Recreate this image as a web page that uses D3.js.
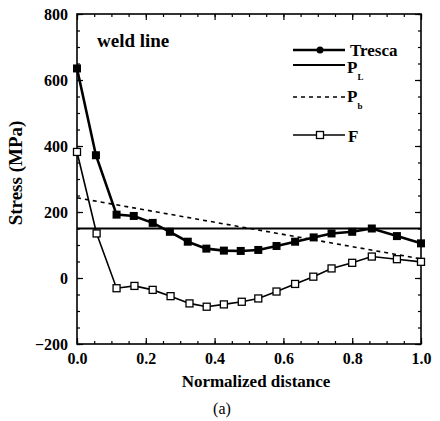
<!DOCTYPE html>
<html>
<head>
<meta charset="utf-8">
<script src="https://cdn.jsdelivr.net/npm/d3@7"></script>
<style>
  body { margin: 0; background: #fff; }
  svg text { font-family: "Liberation Serif", "Times New Roman", serif; fill: #000; }
</style>
</head>
<body>
<svg id="chart" width="440" height="421"></svg>
<script>
// data
var trescaX = [0, 0.055, 0.115, 0.165, 0.22, 0.27, 0.322, 0.376, 0.427, 0.476, 0.527, 0.58, 0.634, 0.688, 0.74, 0.80, 0.857, 0.93, 1.0];
var trescaY = [635, 372, 192, 188, 167, 140, 110, 89, 83, 82, 85, 97, 110, 123, 135, 140, 150, 127, 105];
var fX = [0, 0.057, 0.115, 0.167, 0.22, 0.272, 0.327, 0.377, 0.427, 0.479, 0.527, 0.58, 0.634, 0.687, 0.74, 0.80, 0.857, 0.93, 1.0];
var fY = [382, 135, -31, -24, -36, -55, -77, -87, -80, -72, -62, -41, -18, 4, 29, 46, 65, 57, 49];
var plX = [0, 1];
var plY = [150, 150];
var pbX = [0, 1];
var pbY = [243, 58];
var xTicks = [0, 0.2, 0.4, 0.6, 0.8, 1.0];
var yTicks = [-200, 0, 200, 400, 600, 800];

var svg = d3.select('#chart');
var plotLeft = 77, plotRight = 421, plotTop = 14, plotBottom = 344;

var x = d3.scaleLinear().domain([0, 1]).range([plotLeft, plotRight]);
var y = d3.scaleLinear().domain([-200, 800]).range([plotBottom, plotTop]);

var xMinor = d3.range(0, 1.0001, 0.05);
var yMinor = d3.range(-200, 801, 50);

// minor ticks, all four sides, pointing in
function minorAxis(axis, transform) {
  svg.append('g').attr('transform', transform).call(axis)
    .call(g => g.selectAll('text').remove())
    .call(g => g.select('.domain').remove())
    .selectAll('line').attr('stroke', '#000').attr('stroke-width', 1);
}
minorAxis(d3.axisBottom(x).tickValues(xMinor).tickSize(-3), 'translate(0,' + plotBottom + ')');
minorAxis(d3.axisTop(x).tickValues(xMinor).tickSize(-3), 'translate(0,' + plotTop + ')');
minorAxis(d3.axisLeft(y).tickValues(yMinor).tickSize(-3), 'translate(' + plotLeft + ',0)');
minorAxis(d3.axisRight(y).tickValues(yMinor).tickSize(-3), 'translate(' + plotRight + ',0)');

// major axes
svg.append('g').attr('class', 'axis').attr('transform', 'translate(0,' + plotBottom + ')')
  .call(d3.axisBottom(x).tickValues(xTicks).tickSize(-6).tickPadding(9).tickFormat(d3.format('.1f')));
svg.append('g').attr('class', 'axis').attr('transform', 'translate(' + plotLeft + ',0)')
  .call(d3.axisLeft(y).tickValues(yTicks).tickSize(-6).tickPadding(9).tickFormat(d3.format('d')));
svg.append('g').attr('transform', 'translate(0,' + plotTop + ')')
  .call(d3.axisTop(x).tickValues(xTicks).tickSize(-6).tickFormat(''));
svg.append('g').attr('transform', 'translate(' + plotRight + ',0)')
  .call(d3.axisRight(y).tickValues(yTicks).tickSize(-6).tickFormat(''));

svg.selectAll('.domain').remove();
svg.selectAll('g').attr('font-family', null).attr('font-size', null);
svg.selectAll('.tick line').attr('stroke', '#000').attr('stroke-width', 1.2);
svg.selectAll('.axis .tick text')
  .attr('font-family', 'Liberation Serif, serif')
  .style('font-size', '16px').style('font-weight', 'bold').attr('fill', '#000');

// frame
svg.append('rect').attr('x', plotLeft).attr('y', plotTop)
  .attr('width', plotRight - plotLeft).attr('height', plotBottom - plotTop)
  .attr('fill', 'none').attr('stroke', '#000').attr('stroke-width', 1.6);

function pts(xs, ys) { return xs.map((v, i) => [v, ys[i]]); }
var line = d3.line().x(d => x(d[0])).y(d => y(d[1]));

// P_L and P_b
svg.append('path').datum(pts(plX, plY)).attr('d', line)
  .attr('fill', 'none').attr('stroke', '#000').attr('stroke-width', 1.8);
svg.append('path').datum(pts(pbX, pbY)).attr('d', line)
  .attr('fill', 'none').attr('stroke', '#000').attr('stroke-width', 1.6).attr('stroke-dasharray', '4,4');

// F
var fData = pts(fX, fY);
svg.append('path').datum(fData).attr('d', line)
  .attr('fill', 'none').attr('stroke', '#000').attr('stroke-width', 1.6);
svg.selectAll('.fpt').data(fData).enter().append('rect').attr('class', 'fpt')
  .attr('x', d => x(d[0]) - 3.5).attr('y', d => y(d[1]) - 3.5)
  .attr('width', 7).attr('height', 7)
  .attr('fill', '#fff').attr('stroke', '#000').attr('stroke-width', 1.3);

// Tresca
var tData = pts(trescaX, trescaY);
svg.append('path').datum(tData).attr('d', line)
  .attr('fill', 'none').attr('stroke', '#000').attr('stroke-width', 2.6);
svg.selectAll('.tpt').data(tData).enter().append('rect').attr('class', 'tpt')
  .attr('x', d => x(d[0]) - 4).attr('y', d => y(d[1]) - 4)
  .attr('width', 8).attr('height', 8).attr('fill', '#000');

// labels
svg.append('text').attr('x', 97).attr('y', 47)
  .style('font-size', '19px').style('font-weight', 'bold').text('weld line');

svg.append('text').attr('transform', 'translate(22,173) rotate(-90)')
  .attr('text-anchor', 'middle').style('font-size', '19px').style('font-weight', 'bold')
  .text('Stress (MPa)');

svg.append('text').attr('x', 256).attr('y', 387).attr('text-anchor', 'middle')
  .style('font-size', '17px').style('font-weight', 'bold').text('Normalized distance');

svg.append('text').attr('x', 222).attr('y', 414).attr('text-anchor', 'middle')
  .style('font-size', '16px').text('(a)');

// legend
var lx0 = 293, lx1 = 345;
var legend = svg.append('g');
function legLine(ly, width, dash) {
  legend.append('line').attr('x1', lx0).attr('x2', lx1).attr('y1', ly).attr('y2', ly)
    .attr('stroke', '#000').attr('stroke-width', width).attr('stroke-dasharray', dash || null);
}
function legText(tx, ty, main, sub) {
  var t = legend.append('text').attr('x', tx).attr('y', ty)
    .style('font-size', '17px').style('font-weight', 'bold').text(main);
  if (sub) t.append('tspan').attr('dy', 7).style('font-size', '9px').text(sub);
}
legLine(50, 2.6);
legend.append('circle').attr('cx', 320).attr('cy', 50).attr('r', 3.5).attr('fill', '#000');
legText(350, 56, 'Tresca');
legLine(65, 1.8);
legText(347, 73, 'P', 'L');
legLine(97, 1.6, '4,4');
legText(347, 102, 'P', 'b');
legLine(135, 1.6);
legend.append('rect').attr('x', 316.5).attr('y', 131.5).attr('width', 7).attr('height', 7)
  .attr('fill', '#fff').attr('stroke', '#000').attr('stroke-width', 1.3);
legText(348, 142, 'F');
</script>
</body>
</html>
